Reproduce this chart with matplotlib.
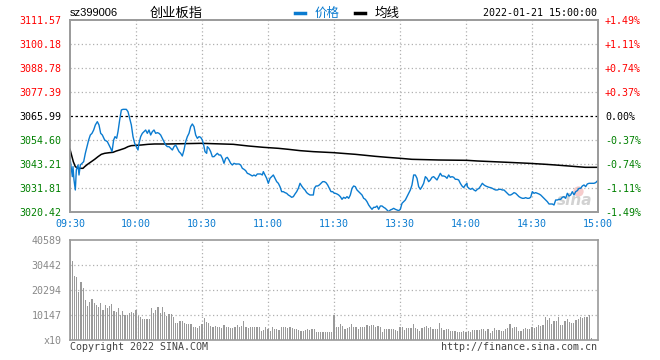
import matplotlib
matplotlib.use("Agg")
import matplotlib.pyplot as plt
import numpy as np

# ---------------- data ----------------
prev_close = 3065.99
price_ticks = [3020.42, 3031.81, 3043.21, 3054.60, 3065.99, 3077.39, 3088.78, 3100.18, 3111.57]
pct_labels = ["-1.49%", "-1.11%", "-0.74%", "-0.37%", "0.00%", "+0.37%", "+0.74%", "+1.11%", "+1.49%"]
time_labels = ["09:30", "10:00", "10:30", "11:00", "11:30", "13:30", "14:00", "14:30", "15:00"]
vol_ticks = [0, 10147, 20294, 30442, 40589]
vol_labels = ["x10", "10147", "20294", "30442", "40589"]

price_min = [0, 1.06, 1.36, 1.82, 2.42, 2.88, 3.64, 4.09, 4.7, 5.45, 6.21, 6.97, 7.73, 8.48, 9.24, 10.0,
             10.76, 11.52, 12.42, 13.18, 13.94, 14.7, 15.76, 16.97, 17.73, 18.48, 19.09, 19.85, 20.45,
             21.21, 21.82, 22.58, 23.33, 24.09, 25.6, 26.36, 27.12, 27.88, 28.64, 29.39, 30.15, 30.91,
             31.36, 32.12, 32.88, 33.64, 34.39, 35.15, 35.91, 36.67, 37.42, 38.18, 38.94, 39.7, 40.45,
             41.21, 41.97, 42.73, 43.48, 44.24, 45.0, 45.76, 46.52, 47.27, 48.03, 48.79, 49.55, 50.3,
             51.06, 51.82, 52.58, 53.33, 54.09, 54.85, 55.61, 56.36, 57.12, 57.88, 58.64, 59.39, 60.15,
             60.76, 61.36, 62.12, 62.42, 63.18, 63.94, 64.7, 65.45, 66.21, 66.97, 67.73, 68.48, 69.24,
             70.0, 70.76, 71.52, 72.27, 73.03, 73.79, 74.55, 75.3, 76.06, 76.82, 77.58, 78.33, 79.09,
             79.85, 80.61, 81.36, 82.12, 82.88, 83.64, 84.39, 85.15, 85.91, 86.67, 87.42, 87.88, 88.64,
             89.39, 90.15, 90.91, 91.67, 92.42, 93.18, 93.94, 94.7, 95.45, 96.21, 96.97, 97.73, 98.48,
             99.24, 100.0, 100.76, 101.52, 102.27, 103.03, 103.79, 104.55, 105.3, 106.06, 106.82,
             107.58, 108.33, 109.09, 109.85, 110.61, 111.06, 111.82, 112.58, 113.33, 114.09, 114.85,
             115.61, 116.36, 117.12, 117.88, 118.64, 119.39, 120.15, 120.61, 121.36, 122.12, 122.88,
             123.64, 124.39, 125.15, 125.91, 126.67, 127.42, 128.18, 128.94, 129.7, 130.45, 131.21,
             131.97, 132.73, 133.48, 134.24, 135.0, 135.76, 136.52, 137.27, 138.03, 138.79, 139.55,
             140.3, 141.06, 141.82, 142.58, 143.33, 144.09, 144.85, 145.61, 146.36, 147.12, 147.88,
             148.64, 149.39, 150.15, 150.91, 151.67, 152.42, 153.18, 153.94, 154.7, 155.45, 156.21,
             156.97, 157.73, 158.48, 159.24, 160.0, 160.76, 161.52, 162.27, 163.03, 163.79, 164.55,
             165.3, 166.06, 166.82, 167.58, 168.33, 169.09, 169.85, 170.61, 171.36, 172.12, 172.88,
             173.64, 174.39, 175.15, 175.91, 176.67, 177.42, 178.18, 178.94, 179.7, 180.45, 180.61,
             181.36, 182.12, 182.88, 183.64, 184.39, 185.15, 185.91, 186.67, 187.42, 188.18, 188.94,
             189.7, 190.45, 191.21, 191.97, 192.73, 193.48, 194.24, 195.0, 195.76, 196.52, 197.27,
             198.03, 198.79, 199.55, 200.3, 201.06, 201.82, 202.58, 203.33, 204.09, 204.85, 205.61,
             206.36, 207.12, 207.88, 208.64, 209.39, 210.15, 210.91, 211.67, 212.42, 213.18, 213.94,
             214.7, 215.45, 216.21, 216.97, 217.73, 218.48, 219.24, 220.0, 220.76, 221.52, 222.27,
             223.03, 223.79, 224.55, 225.3, 226.06, 226.82, 227.58, 228.33, 229.09, 229.85, 230.61,
             231.36, 232.12, 232.88, 233.64, 234.39, 235.15, 235.91, 236.67, 237.42, 238.18, 238.94,
             239.7, 240.0]
price = [3046.06, 3037.20, 3041.95, 3035.62, 3030.87, 3040.36, 3042.74, 3037.99, 3042.74, 3043.53,
         3044.32, 3048.28, 3051.44, 3054.61, 3056.98, 3057.77, 3059.35, 3061.73, 3063.31, 3061.73,
         3057.77, 3056.98, 3054.61, 3053.82, 3052.23, 3050.65, 3049.07, 3054.61, 3056.19, 3055.40,
         3058.56, 3064.10, 3068.85, 3069.16, 3069.16, 3068.05, 3064.89, 3061.73, 3056.19, 3053.02,
         3051.44, 3049.86, 3053.02, 3056.19, 3057.77, 3058.56, 3059.35, 3057.77, 3059.35, 3056.98,
         3058.56, 3059.35, 3057.77, 3058.09, 3057.77, 3056.98, 3055.40, 3053.82, 3052.23, 3051.44,
         3051.44, 3050.65, 3049.86, 3051.44, 3052.23, 3050.65, 3049.07, 3048.28, 3047.01, 3049.86,
         3053.82, 3056.19, 3057.77, 3060.93, 3062.20, 3060.93, 3056.98, 3055.40, 3056.19, 3055.87,
         3054.61, 3052.23, 3049.07, 3048.28, 3051.44, 3050.65, 3049.07, 3046.69, 3046.69, 3047.48,
         3048.28, 3047.48, 3047.48, 3045.90, 3043.53, 3045.90, 3046.37, 3045.11, 3043.53, 3042.74,
         3043.53, 3043.21, 3043.21, 3043.21, 3042.74, 3041.16, 3040.68, 3040.05, 3038.78, 3038.47,
         3037.99, 3037.52, 3037.99, 3037.52, 3038.47, 3038.47, 3038.47, 3037.99, 3039.57, 3037.99,
         3036.41, 3034.04, 3036.41, 3037.20, 3037.99, 3036.41, 3034.83, 3034.04, 3032.45, 3030.08,
         3030.08, 3029.61, 3029.29, 3028.50, 3028.02, 3027.39, 3027.71, 3028.97, 3030.08, 3031.66,
         3034.04, 3032.77, 3031.66, 3030.87, 3029.61, 3028.97, 3028.50, 3028.50, 3028.50, 3031.66,
         3032.77, 3032.77, 3033.25, 3034.04, 3034.83, 3034.83, 3034.36, 3033.25, 3031.66, 3030.08,
         3030.08, 3029.29, 3029.29, 3028.97, 3028.50, 3027.71, 3026.44, 3027.39, 3026.92, 3027.71,
         3026.92, 3028.50, 3031.66, 3032.77, 3032.45, 3030.87, 3030.08, 3029.29, 3028.50, 3026.92,
         3026.44, 3025.33, 3023.75, 3022.64, 3021.69, 3022.64, 3022.64, 3023.28, 3021.69, 3023.28,
         3023.28, 3022.64, 3022.17, 3021.38, 3020.59, 3021.38, 3021.69, 3022.17, 3021.69, 3021.38,
         3021.06, 3021.69, 3024.54, 3025.33, 3026.12, 3027.71, 3029.29, 3030.87, 3033.25, 3037.99,
         3037.99, 3036.41, 3032.45, 3031.19, 3032.45, 3034.04, 3037.20, 3036.41, 3034.83, 3035.62,
         3036.89, 3037.20, 3036.41, 3035.62, 3037.20, 3038.78, 3037.52, 3037.52, 3037.20, 3036.41,
         3037.99, 3036.89, 3037.20, 3036.89, 3035.94, 3035.94, 3035.62, 3034.04, 3032.77, 3031.98,
         3033.25, 3034.04, 3032.45, 3031.66, 3031.19, 3031.66, 3030.87, 3030.40, 3031.19, 3031.66,
         3032.77, 3034.04, 3033.25, 3032.77, 3032.45, 3032.14, 3031.98, 3031.66, 3031.19, 3030.87,
         3030.87, 3031.19, 3031.19, 3030.87, 3030.87, 3030.08, 3029.29, 3028.50, 3028.50, 3028.97,
         3029.61, 3029.29, 3028.50, 3027.71, 3027.24, 3026.92, 3026.92, 3027.24, 3026.92, 3026.92,
         3027.39, 3030.08, 3029.29, 3029.61, 3029.29, 3028.97, 3028.50, 3027.71, 3026.92, 3026.12,
         3025.33, 3024.22, 3024.22, 3024.22, 3023.75, 3026.12, 3026.12, 3026.44, 3026.44, 3027.39,
         3027.71, 3026.92, 3029.29, 3028.02, 3028.50, 3030.08, 3028.50, 3030.08, 3030.56, 3031.66,
         3031.66, 3032.77, 3033.25, 3032.45, 3033.72, 3034.04, 3034.04, 3034.04, 3034.04, 3034.36,
         3035.15, 3035.30]

avg_min = [0, 1.5, 2.42, 3.64, 5.91, 6.67, 8.18, 9.7, 11.21, 12.73, 14.24, 15.76, 18.03, 19.55,
           21.06, 22.58, 24.85, 26.36, 27.88, 32.42, 35.45, 38.48, 44.55, 59.7, 74.24, 81.06, 87.88,
           94.7, 99.24, 104.55, 110.61, 119.7, 123.64, 129.7, 134.24, 138.79, 144.09, 150.15, 155.45,
           167.58, 180.45, 185.15, 198.79, 208.64, 216.21, 220.61, 226.67, 234.24, 240.0]
avg_price = [3050.18, 3044.32, 3041.95, 3041.16, 3041.16, 3041.95, 3043.21, 3044.32, 3045.43, 3046.69,
             3047.80, 3048.28, 3048.60, 3048.75, 3049.38, 3049.86, 3050.65, 3051.44, 3051.92, 3052.23,
             3052.55, 3052.71, 3052.71, 3053.02, 3052.55, 3051.76, 3051.13, 3050.65, 3050.18, 3049.55,
             3049.07, 3048.60, 3048.28, 3047.80, 3047.33, 3046.85, 3046.38, 3045.90, 3045.43, 3045.11,
             3044.95, 3044.64, 3044.01, 3043.53, 3043.06, 3042.74, 3042.26, 3041.63, 3041.63]

volume = [40589, 32170, 25790, 25380, 19280, 23350, 21040, 16290, 13850, 15610,
          16700, 14930, 14250, 13300, 14930, 12220, 14250, 12900, 13850, 14660,
          11950, 11540, 12900, 10180, 11810, 10180, 10180, 10860, 11540, 11130,
          12220, 9770, 9230, 8420, 8420, 8420, 8420, 12900, 10860, 12220,
          13300, 11130, 13300, 11540, 9770, 10450, 10590, 9500, 6790, 7060,
          7870, 7740, 7060, 6380, 6380, 6380, 5430, 5430, 5020, 5700,
          6520, 9100, 7470, 7060, 5840, 5430, 5840, 5160, 5430, 5020,
          6110, 5160, 5430, 4750, 4750, 5430, 6110, 5430, 5700, 7740,
          5160, 4750, 5160, 5430, 5160, 5430, 5430, 3800, 4070, 5160,
          4620, 3800, 5160, 4340, 4620, 4070, 5160, 5430, 5430, 4750,
          5430, 4750, 4340, 4340, 4070, 3800, 3800, 4070, 4340, 4070,
          4340, 4620, 3390, 3390, 3390, 3390, 3390, 3390, 3390, 3390,
          10180, 5430, 5160, 6380, 5840, 4480, 4750, 5160, 6520, 5430,
          5160, 4340, 5430, 5160, 5160, 6110, 5840, 6110, 6110, 5430,
          5700, 5160, 3390, 4340, 4620, 4620, 4620, 4620, 4070, 3800,
          5430, 5430, 4070, 4750, 5020, 5020, 6520, 5020, 4620, 3800,
          5020, 5430, 5700, 4750, 5430, 4340, 4340, 4340, 6790, 5020,
          4070, 4340, 4340, 3800, 3800, 3670, 3390, 3390, 3390, 3670,
          3390, 3800, 3390, 4070, 4070, 4070, 4070, 4480, 4340, 3670,
          4480, 2990, 3670, 5020, 4070, 4070, 3800, 3800, 4340, 4750,
          6380, 4750, 5430, 5160, 3800, 3800, 4340, 4750, 4340, 4340,
          5430, 4750, 5160, 6110, 5700, 6110, 9230, 8150, 8820, 6520,
          7870, 7870, 9230, 6110, 6110, 7870, 8420, 7470, 7060, 7060,
          8150, 8420, 9230, 8820, 9230, 9230, 10050, 680]

# ---------------- style ----------------
W, H = 660, 360
fig = plt.figure(figsize=(6.6, 3.6), dpi=100)
MONO = "DejaVu Sans Mono"
FS = 7.2
RED, GREEN, BLUE = "#ff0000", "#008000", "#0a7bd0"
SPINE = "#9a9a9a"
GRID = "#b0b0b0"

def fx(px):
    return px / W

def fy(py):
    return 1 - py / H

L, R = 70, 598
ax = fig.add_axes([fx(L), fy(212), fx(R - L), (212 - 20) / H])
axv = fig.add_axes([fx(L), fy(340), fx(R - L), (340 - 240) / H])

xt = np.arange(0, 241, 30)

# ---- price panel ----
ax.set_xlim(0, 240)
ax.set_ylim(price_ticks[0], price_ticks[-1])
for v in price_ticks[1:-1]:
    if abs(v - prev_close) < 0.01:
        continue
    ax.axhline(v, color=GRID, lw=0.9, ls=(0, (1, 2)), zorder=1)
for t in xt[1:-1]:
    ax.axvline(t, color=GRID, lw=0.9, ls=(0, (1, 2)), zorder=1)
ax.axhline(prev_close, color="black", lw=0.9, ls=(0, (2, 2)), zorder=2)
ax.plot(avg_min, avg_price, color="black", lw=1.1, zorder=3)
ax.plot(price_min, price, color=BLUE, lw=1.0, zorder=4)

ax.set_yticks(price_ticks)
ax.set_yticklabels([f"{v:.2f}" for v in price_ticks], fontfamily=MONO, fontsize=FS)
for lab, v in zip(ax.get_yticklabels(), price_ticks):
    lab.set_color("black" if abs(v - prev_close) < 0.01 else (RED if v > prev_close else GREEN))
ax.tick_params(axis="y", length=0, pad=6)
ax.set_xticks(xt)
ax.set_xticklabels(time_labels, fontfamily=MONO, fontsize=FS, color=BLUE)
ax.tick_params(axis="x", length=0, pad=5)

ax2 = ax.twinx()
ax2.set_ylim(ax.get_ylim())
ax2.set_yticks(price_ticks)
ax2.set_yticklabels(pct_labels, fontfamily=MONO, fontsize=FS)
for lab, s in zip(ax2.get_yticklabels(), pct_labels):
    lab.set_color(RED if s.startswith("+") else (GREEN if s.startswith("-") else "black"))
ax2.tick_params(axis="y", length=0, pad=5)

for a in (ax, ax2):
    for sp in a.spines.values():
        sp.set_color(SPINE)
        sp.set_linewidth(1.2)

# watermark
ax.scatter([0.962], [0.11], transform=ax.transAxes, s=55, marker="o", color="#f6cccc",
           zorder=0, lw=0)
ax.text(0.99, 0.02, "sina", transform=ax.transAxes, ha="right", va="bottom",
        fontsize=11, fontstyle="italic", fontweight="bold", color="#d2d2d2", zorder=0)

# ---- volume panel ----
vmin = np.arange(len(volume))
axv.set_xlim(0, 240)
axv.set_ylim(0, vol_ticks[-1])
for v in vol_ticks[1:-1]:
    axv.axhline(v, color=GRID, lw=0.9, ls=(0, (1, 2)), zorder=1)
for t in xt[1:-1]:
    axv.axvline(t, color=GRID, lw=0.9, ls=(0, (1, 2)), zorder=1)
axv.bar(vmin, volume, width=0.46, color="#9a9a9a", lw=0, zorder=2, align="center",
        antialiased=False)
axv.set_yticks(vol_ticks)
axv.set_yticklabels(vol_labels, fontfamily=MONO, fontsize=FS, color="#888888")
axv.tick_params(axis="y", length=0, pad=6)
axv.set_xticks([])
for sp in axv.spines.values():
    sp.set_color(SPINE)
    sp.set_linewidth(1.2)

# ---- header ----
fig.text(fx(70), fy(13), "sz399006", fontfamily="Liberation Sans", fontsize=8, va="center", ha="left")
fig.text(fx(150), fy(13), "创业板指", fontfamily=["Noto Sans CJK SC", "DejaVu Sans"], fontsize=9.5,
         va="center", ha="left")
fig.add_artist(plt.Line2D([fx(295), fx(305)], [fy(13), fy(13)], color=BLUE, lw=2.5))
fig.text(fx(315), fy(13), "价格", fontfamily=["Noto Sans CJK SC", "DejaVu Sans"], fontsize=9,
         va="center", ha="left", color=BLUE)
fig.add_artist(plt.Line2D([fx(355), fx(365)], [fy(13), fy(13)], color="black", lw=2.5))
fig.text(fx(375), fy(13), "均线", fontfamily=["Noto Sans CJK SC", "DejaVu Sans"], fontsize=9,
         va="center", ha="left")
fig.text(fx(597), fy(13), "2022-01-21 15:00:00", fontfamily=MONO, fontsize=FS, va="center", ha="right")

# ---- footer ----
fig.text(fx(70), fy(347), "Copyright 2022 SINA.COM", fontfamily=MONO, fontsize=FS, va="center",
         ha="left", color="#444444")
fig.text(fx(597), fy(347), "http://finance.sina.com.cn", fontfamily=MONO, fontsize=FS, va="center",
         ha="right", color="#444444")

fig.savefig("out.png", dpi=100)
